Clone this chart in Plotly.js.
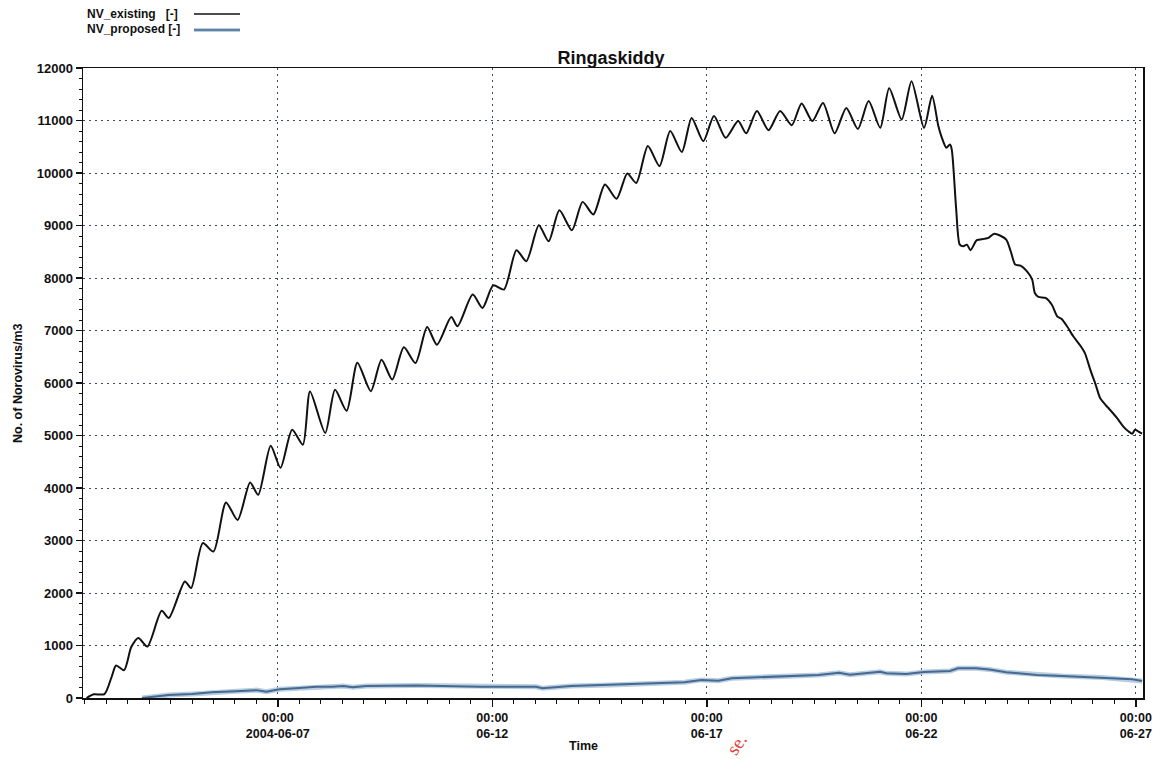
<!DOCTYPE html>
<html>
<head>
<meta charset="utf-8">
<script src="https://cdn.plot.ly/plotly-3.0.1.min.js"></script>
<style>
html,body{margin:0;padding:0;background:#fff;}
#chart{width:1162px;height:759px;}
</style>
</head>
<body>
<div id="chart"></div>
<script>
const seriesNames = ["NV_existing   [-]", "NV_proposed [-]"];
const chartTitle = "Ringaskiddy";
const yTitle = "No. of Norovirus/m3";
const xTitle = "Time";

const existingTime = [
"2004-06-02 13:00","2004-06-02 17:00","2004-06-02 23:00","2004-06-03 03:00","2004-06-03 05:30",
"2004-06-03 10:00","2004-06-03 14:00","2004-06-03 18:00","2004-06-03 23:00","2004-06-04 07:00",
"2004-06-04 11:00","2004-06-04 20:00","2004-06-04 23:30","2004-06-05 06:00","2004-06-05 12:00",
"2004-06-05 19:00","2004-06-06 01:30","2004-06-06 08:30","2004-06-06 13:00","2004-06-06 20:00",
"2004-06-07 01:30","2004-06-07 08:00","2004-06-07 14:00","2004-06-07 18:00","2004-06-08 02:30",
"2004-06-08 08:00","2004-06-08 14:30","2004-06-08 20:30","2004-06-09 04:00","2004-06-09 10:00",
"2004-06-09 16:00","2004-06-09 22:30","2004-06-10 05:00","2004-06-10 11:30","2004-06-10 17:00",
"2004-06-11 01:00","2004-06-11 04:30","2004-06-11 13:00","2004-06-11 18:30","2004-06-12 00:30",
"2004-06-12 06:30","2004-06-12 13:30","2004-06-12 19:00","2004-06-13 02:00","2004-06-13 07:30",
"2004-06-13 13:30","2004-06-13 20:30","2004-06-14 02:30","2004-06-14 08:30","2004-06-14 15:00",
"2004-06-14 21:30","2004-06-15 03:30","2004-06-15 08:30","2004-06-15 15:00","2004-06-15 21:30",
"2004-06-16 03:30","2004-06-16 10:00","2004-06-16 15:30","2004-06-16 22:00","2004-06-17 04:00",
"2004-06-17 10:30","2004-06-17 17:30","2004-06-17 22:00","2004-06-18 04:00","2004-06-18 10:30",
"2004-06-18 17:00","2004-06-18 23:30","2004-06-19 05:00","2004-06-19 11:00","2004-06-19 17:00",
"2004-06-19 23:30","2004-06-20 06:00","2004-06-20 12:30","2004-06-20 18:30","2004-06-21 01:00",
"2004-06-21 06:00","2004-06-21 13:00","2004-06-21 18:30","2004-06-22 01:30","2004-06-22 06:00",
"2004-06-22 09:30","2004-06-22 11:30","2004-06-22 14:00","2004-06-22 16:00","2004-06-22 17:00",
"2004-06-22 19:30","2004-06-22 21:30","2004-06-22 23:30","2004-06-23 01:30","2004-06-23 03:30",
"2004-06-23 07:00","2004-06-23 11:00","2004-06-23 13:30","2004-06-23 16:30","2004-06-23 20:00",
"2004-06-23 23:30","2004-06-24 02:00","2004-06-24 04:30","2004-06-24 07:30","2004-06-24 11:00",
"2004-06-24 14:00","2004-06-24 15:30","2004-06-24 17:30","2004-06-24 21:30","2004-06-25 01:00",
"2004-06-25 04:00","2004-06-25 06:30","2004-06-25 09:30","2004-06-25 13:00","2004-06-25 17:00",
"2004-06-25 19:30","2004-06-25 22:30","2004-06-26 01:30","2004-06-26 04:00","2004-06-26 07:00",
"2004-06-26 09:30","2004-06-26 13:30","2004-06-26 17:00","2004-06-26 20:00","2004-06-26 22:00",
"2004-06-26 23:30","2004-06-27 01:30","2004-06-27 03:30"
];
const existingValue = [
0,70,75,400,620,
530,970,1145,980,1660,
1525,2220,2095,2950,2790,
3725,3390,4105,3870,4805,
4385,5110,4825,5840,5050,
5870,5470,6385,5845,6445,
6065,6680,6380,7065,6730,
7255,7080,7685,7430,7860,
7780,8530,8320,9005,8700,
9290,8910,9450,9210,9780,
9510,9990,9810,10515,10130,
10800,10400,11050,10605,11085,
10670,10990,10755,11180,10815,
11180,10910,11325,10990,11335,
10755,11240,10840,11370,10860,
11615,11020,11750,10860,11470,
10895,10670,10480,10545,10450,
9305,8635,8605,8635,8530,
8720,8745,8765,8840,8810,
8730,8510,8255,8235,8130,
7970,7715,7640,7620,7490,
7270,7220,7080,6890,6710,
6570,6255,5970,5715,5585,
5490,5330,5170,5075,5035,
5110,5075,5035
];

const proposedTime = [
"2004-06-03 20:00","2004-06-04 11:00","2004-06-05 00:00","2004-06-05 11:00","2004-06-06 00:30",
"2004-06-06 12:00","2004-06-06 17:30","2004-06-07 01:00","2004-06-07 10:00","2004-06-07 21:30",
"2004-06-08 06:30","2004-06-08 12:30","2004-06-08 18:00","2004-06-09 01:30","2004-06-10 05:30",
"2004-06-10 22:00","2004-06-11 17:00","2004-06-13 00:30","2004-06-13 04:00","2004-06-13 20:00",
"2004-06-14 18:00","2004-06-15 18:30","2004-06-16 11:30","2004-06-16 21:00","2004-06-17 06:30",
"2004-06-17 14:00","2004-06-18 02:30","2004-06-18 14:30","2004-06-19 02:30","2004-06-19 14:30",
"2004-06-20 02:00","2004-06-20 08:00","2004-06-21 01:00","2004-06-21 04:30","2004-06-21 15:30",
"2004-06-22 01:30","2004-06-22 16:00","2004-06-22 20:30","2004-06-23 06:30","2004-06-23 14:00",
"2004-06-23 23:30","2004-06-24 16:30","2004-06-25 07:00","2004-06-26 05:00","2004-06-26 22:00",
"2004-06-27 03:30"
];
const proposedValue = [
0,55,75,110,130,
150,120,165,185,215,
215,230,205,230,240,
230,215,215,185,230,
250,280,300,345,330,
375,390,405,420,440,
480,445,500,470,455,
495,515,565,565,545,
490,440,420,390,355,
325
];

const tickVals = ["2004-06-07","2004-06-12","2004-06-17","2004-06-22","2004-06-27"];
const tickText = ["00:00<br>2004-06-07","00:00<br>06-12","00:00<br>06-17","00:00<br>06-22","00:00<br>06-27"];
const yTicks = [0,1000,2000,3000,4000,5000,6000,7000,8000,9000,10000,11000,12000];
const yTickText = ["0","1000","2000","3000","4000","5000","6000","7000","8000","9000","10000","11000","12000"];

const lineColors = ["#111111", "#46698f"];
const FONT = "Liberation Sans, Arial, sans-serif";

const traces = [
  {
    x: proposedTime, y: proposedValue, name: seriesNames[1], type: "scatter", mode: "lines",
    line: {color: "#b9cde3", width: 5}, hoverinfo: "skip", showlegend: false
  },
  {
    x: proposedTime, y: proposedValue, name: seriesNames[1], type: "scatter", mode: "lines",
    line: {color: lineColors[1], width: 2}, showlegend: false
  },
  {
    x: existingTime, y: existingValue, name: seriesNames[0], type: "scatter", mode: "lines",
    line: {color: lineColors[0], width: 2, shape: "spline", smoothing: 0.7}, showlegend: false
  }
];

const W = 1162, H = 759;
const L = 83, R = 1143, T = 68, B = 698;
// pixel position -> plot-area "paper" fraction (for annotations/shapes placed around the plot)
const px = v => (v - L) / (R - L);
const py = v => (B - v) / (B - T);

const layout = {
  width: W, height: H,
  margin: {l: L, r: W - R, t: T, b: H - B},
  paper_bgcolor: "#ffffff", plot_bgcolor: "#ffffff",
  font: {family: FONT, color: "#111", size: 11},
  showlegend: false,
  title: {
    text: chartTitle, xref: "container", yref: "container", x: 611 / W, xanchor: "center",
    y: 1 - 58 / H, yanchor: "middle",
    font: {family: FONT, size: 18, weight: 700, color: "#111"}
  },
  xaxis: {
    type: "date",
    range: ["2004-06-02 11:00", "2004-06-27 04:00"],
    tickmode: "array", tickvals: tickVals, ticktext: tickText,
    ticks: "outside", ticklen: 7, tickwidth: 1.5, tickcolor: "#111",
    tickfont: {family: FONT, size: 12.5, weight: 700, color: "#111"},
    showline: true, linecolor: "#111", linewidth: 1.5, mirror: true,
    showgrid: true, gridcolor: "#3c4a5c", gridwidth: 1, griddash: "2px,4px",
    zeroline: false,
    minor: {dtick: 12 * 3600 * 1000, tick0: "2004-06-02", ticks: "outside", ticklen: 4, tickcolor: "#111", tickwidth: 1, showgrid: false}
  },
  yaxis: {
    range: [0, 12000],
    tickmode: "array", tickvals: yTicks, ticktext: yTickText,
    ticks: "outside", ticklen: 6, tickwidth: 1.5, tickcolor: "#111",
    tickfont: {family: FONT, size: 13, weight: 700, color: "#111"},
    showline: true, linecolor: "#111", linewidth: 1.5, mirror: true,
    showgrid: true, gridcolor: "#3c4a5c", gridwidth: 1, griddash: "2px,4px",
    zeroline: false,
    minor: {dtick: 200, tick0: 0, ticks: "outside", ticklen: 3, tickcolor: "#111", tickwidth: 1, showgrid: false}
  },
  annotations: [
    {text: yTitle, xref: "paper", yref: "paper", x: px(18) , y: py(383), xanchor: "center", yanchor: "middle",
     textangle: -90, showarrow: false, font: {family: FONT, size: 12.5, weight: 700, color: "#111"}},
    {text: xTitle, xref: "paper", yref: "paper", x: px(583), y: py(746), xanchor: "center", yanchor: "middle",
     showarrow: false, font: {family: FONT, size: 12.5, weight: 700, color: "#111"}},
    {text: seriesNames[0], xref: "paper", yref: "paper", x: px(85), y: py(14), xanchor: "left", yanchor: "middle",
     showarrow: false, font: {family: FONT, size: 12, weight: 700, color: "#111"}},
    {text: seriesNames[1], xref: "paper", yref: "paper", x: px(85), y: py(29), xanchor: "left", yanchor: "middle",
     showarrow: false, font: {family: FONT, size: 12, weight: 700, color: "#111"}},
    {text: "se.", xref: "paper", yref: "paper", x: px(736), y: py(744), xanchor: "center", yanchor: "middle",
     textangle: -55, showarrow: false, font: {family: "Liberation Serif, serif", size: 19, color: "#e0443a"}}
  ],
  shapes: [
    {type: "line", xref: "paper", yref: "paper", x0: px(194), x1: px(240), y0: py(14), y1: py(14),
     line: {color: lineColors[0], width: 1.5}},
    {type: "line", xref: "paper", yref: "paper", x0: px(194), x1: px(240), y0: py(30), y1: py(30),
     line: {color: "#b9cde3", width: 4}},
    {type: "line", xref: "paper", yref: "paper", x0: px(194), x1: px(240), y0: py(30), y1: py(30),
     line: {color: lineColors[1], width: 1.5}}
  ]
};

Plotly.newPlot("chart", traces, layout, {displayModeBar: false, staticPlot: true});
</script>
</body>
</html>
